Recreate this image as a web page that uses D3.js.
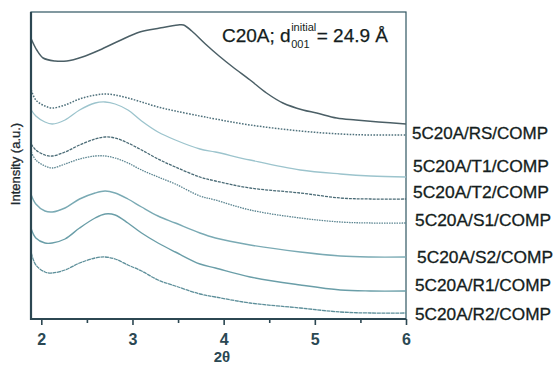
<!DOCTYPE html>
<html><head><meta charset="utf-8">
<script src="https://cdn.jsdelivr.net/npm/d3@7"></script>
<style>html,body{margin:0;padding:0;background:#fff;}svg{display:block;}</style>
</head><body>
<svg id="chart" width="554" height="365"></svg>
<script>
// ---- data ----
const xTicks = [2, 3, 4, 5, 6];
const xMinorTicks = [2.5, 3.5, 4.5, 5.5];
const xTopCurve = [1.89,1.95,2.02,2.15,2.28,2.45,2.64,2.85,3.08,3.30,3.50,3.56,3.65,3.80,3.95,4.10,4.29,4.47,4.65,4.87,5.02,5.24,5.45,5.70,6.0];
const c20a = [280,269,261,258,258,262,269,278,287,291,294,294,288,275,263,252,239,226,216,209,206,201,199,197,195];
const xSamples = [1.89,1.94,2.04,2.12,2.26,2.42,2.59,2.70,2.81,2.95,3.10,3.28,3.47,3.74,3.91,4.29,4.84,5.28,5.61,6.0];
const rs = [229,219,213,211,214,220,224,225,224,221,217,212,208,203,200,194,188,185,184,184];
const t1 = [209,203,197,195,199,209,216,217,215,209,198,187,179,170,167,159,149,145,143,142];
const t2 = [175,169,164,163,167,174,180,182,181,176,169,160,152,142,138,131,126,121,120,120];
const s1 = [167,159,153,151,155,160,163,163,161,156,149,142,135,123,119,109,101,97,96,96];
const s2 = [124,115,108,107,111,120,126,128,126,120,112,103,96,86,81,74,67,63,62,62];
const r1 = [90,81,76,76,80,91,101,105,104,96,86,76,67,55,51,42,34,29,28,28];
const r2 = [66,54,47,46,49,56,61,62,60,54,48,39,33,25,22,16,11,7,6,6];
const sampleNames = ["5C20A/RS/COMP","5C20A/T1/COMP","5C20A/T2/COMP","5C20A/S1/COMP","5C20A/S2/COMP","5C20A/R1/COMP","5C20A/R2/COMP"];
const sampleValues = [rs, t1, t2, s1, s2, r1, r2];

// ---- layout / styles ----
const sampleStyles = [
  {color:"#4f717c", dash:"1.6,1.4", w:1.5},
  {color:"#9cc4cd", dash:null, w:1.3},
  {color:"#4a6b76", dash:"3,1", w:1.3},
  {color:"#5a8490", dash:"1.5,1", w:1.3},
  {color:"#7aaab4", dash:null, w:1.4},
  {color:"#6a9ea8", dash:null, w:1.4},
  {color:"#5d8f9a", dash:"4,0.6", w:1.3}
];
const labelDy = [4, -5, -1, 3, 6, 0, 7];
const labelDx = [0, 1, 1, 3, 5, 3, 3];

const L = 31, R = 406, T = 12, B = 319;
const svg = d3.select("#chart");
const x = d3.scaleLinear().domain([1.887, 6]).range([L, R]);
const y = d3.scaleLinear().domain([0, 307]).range([B, T]);
const axisColor = "#2c4752";
const font = "'Liberation Sans', Arial, sans-serif";
const textColor = "#141d20";

// frame
svg.append("rect").attr("x", L).attr("y", T).attr("width", R - L).attr("height", B - T)
  .attr("fill", "none").attr("stroke", "#2f5562").attr("stroke-width", 1.2);

const line = d3.line().curve(d3.curveCatmullRom.alpha(0.5));

// C20A curve
svg.append("path")
  .attr("d", line(xTopCurve.map((v, i) => [x(v), y(c20a[i])])))
  .attr("fill", "none").attr("stroke", "#4b5f66").attr("stroke-width", 1.5);

sampleValues.forEach((vals, k) => {
  const st = sampleStyles[k];
  const p = svg.append("path")
    .attr("d", line(xSamples.map((v, i) => [x(v), y(vals[i])])))
    .attr("fill", "none").attr("stroke", st.color).attr("stroke-width", st.w);
  if (st.dash) p.attr("stroke-dasharray", st.dash);
  svg.append("text")
    .attr("x", R + 6 + labelDx[k])
    .attr("y", y(vals[vals.length - 1]) + labelDy[k])
    .attr("font-family", font).attr("font-size", 16.5)
    .attr("fill", textColor).attr("stroke", textColor).attr("stroke-width", 0.3)
    .attr("textLength", 136).attr("lengthAdjust", "spacingAndGlyphs")
    .text(sampleNames[k]);
});

// x axis
const xAxis = d3.axisBottom(x).tickValues(xTicks).tickSize(6).tickFormat(d3.format("d"));
const gx = svg.append("g").attr("transform", `translate(0,${B})`).call(xAxis);
gx.select(".domain").remove();
gx.selectAll(".tick line").attr("stroke", axisColor).attr("stroke-width", 1.6);
gx.selectAll(".tick text").attr("font-family", font).attr("font-size", 16)
  .attr("font-weight", "bold").attr("fill", "#2a4853").attr("dy", "1.05em");
const gm = svg.append("g").attr("transform", `translate(0,${B})`)
  .call(d3.axisBottom(x).tickValues(xMinorTicks).tickSize(4).tickFormat(""));
gm.select(".domain").remove();
gm.selectAll(".tick line").attr("stroke", axisColor).attr("stroke-width", 1.6);

// thick left & bottom axis lines
svg.append("line").attr("x1", L).attr("x2", R).attr("y1", B).attr("y2", B)
  .attr("stroke", axisColor).attr("stroke-width", 2.2);
svg.append("line").attr("x1", L).attr("x2", L).attr("y1", T).attr("y2", B + 1)
  .attr("stroke", axisColor).attr("stroke-width", 2.2);

// axis titles
svg.append("text").attr("x", 222).attr("y", 362).attr("text-anchor", "middle")
  .attr("font-family", font).attr("font-size", 15).attr("font-weight", "bold")
  .attr("fill", "#2a4853").text("2θ");
svg.append("text").attr("transform", "translate(20,164) rotate(-90)")
  .attr("text-anchor", "middle").attr("font-family", font).attr("font-size", 13)
  .attr("fill", "#1e2a30").attr("stroke", "#1e2a30").attr("stroke-width", 0.3)
  .text("Intensity (a.u.)");

// title
const tx = 222, ty = 42;
const t0 = svg.append("text").attr("x", tx).attr("y", ty).attr("font-family", font)
  .attr("font-size", 19).attr("fill", textColor).attr("stroke", textColor).attr("stroke-width", 0.25)
  .text("C20A; d");
const w0 = t0.node().getComputedTextLength();
const sup = svg.append("text").attr("x", tx + w0 + 0.5).attr("y", ty - 11).attr("font-family", font)
  .attr("font-size", 11).attr("fill", textColor).text("initial");
const sub = svg.append("text").attr("x", tx + w0 + 0.5).attr("y", ty + 6).attr("font-family", font)
  .attr("font-size", 11).attr("fill", textColor).text("001");
const ws = Math.max(sup.node().getComputedTextLength(), sub.node().getComputedTextLength());
svg.append("text").attr("x", tx + w0 + ws + 1).attr("y", ty).attr("font-family", font)
  .attr("font-size", 19).attr("fill", textColor).attr("stroke", textColor).attr("stroke-width", 0.25)
  .text("= 24.9 Å");
</script>
</body></html>
